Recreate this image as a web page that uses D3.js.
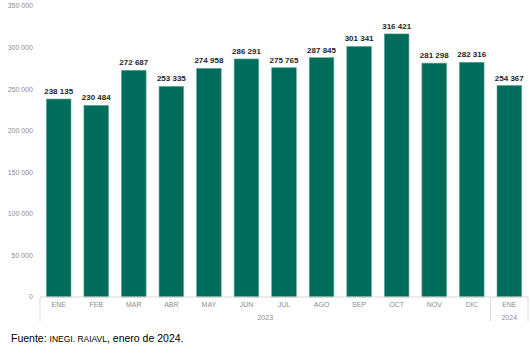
<!DOCTYPE html>
<html>
<head>
<meta charset="utf-8">
<script src="https://cdn.jsdelivr.net/npm/d3@7"></script>
<style>
  body { margin: 0; background: #fff; font-family: "Liberation Sans", Arial, sans-serif; }
</style>
</head>
<body>
<div id="chart"></div>
<script>
const meses = ["ENE", "FEB", "MAR", "ABR", "MAY", "JUN", "JUL", "AGO", "SEP", "OCT", "NOV", "DIC", "ENE"];
const anios = ["2023", "2023", "2023", "2023", "2023", "2023", "2023", "2023", "2023", "2023", "2023", "2023", "2024"];
const ventas = [238135, 230484, 272687, 253335, 274958, 286291, 275765, 287845, 301341, 316421, 281298, 282316, 254367];
const yTicks = [0, 50000, 100000, 150000, 200000, 250000, 300000, 350000];

const W = 530, H = 354;
const margin = { top: 6, right: 2, bottom: 57, left: 40 };
const width = W - margin.left - margin.right,
      height = H - margin.top - margin.bottom;

const svg = d3.select("#chart").append("svg")
    .attr("width", W).attr("height", H);
const g = svg.append("g").attr("transform", `translate(${margin.left},${margin.top})`);

const data = meses.map((m, i) => ({ id: i, mes: m, anio: anios[i], v: ventas[i] }));

const x = d3.scaleBand().domain(data.map(d => d.id)).range([0, width]).paddingInner(0.345).paddingOuter(0.17);
const y = d3.scaleLinear().domain([0, 350000]).range([height, 0]);

const fmt = v => d3.format(",")(v).replace(/,/g, " ");

// eje Y (solo etiquetas)
g.selectAll(".ytick").data(yTicks).enter().append("text")
    .attr("x", -7).attr("y", d => y(d)).attr("dy", "0.35em")
    .attr("text-anchor", "end")
    .style("font-size", "7px").style("fill", "#8c8c8c")
    .text(d => fmt(d));

// barras
g.selectAll(".bar").data(data).enter().append("rect")
    .attr("x", d => x(d.id)).attr("width", x.bandwidth())
    .attr("y", d => y(d.v)).attr("height", d => height - y(d.v))
    .attr("fill", "#006c5b").attr("stroke", "#5fa797").attr("stroke-width", 0.6);

// etiquetas de valor
g.selectAll(".lbl").data(data).enter().append("text")
    .attr("x", d => x(d.id) + x.bandwidth() / 2).attr("y", d => y(d.v) - 5)
    .attr("text-anchor", "middle")
    .style("font-size", "8px").style("font-weight", "bold").style("fill", "#262626")
    .text(d => fmt(d.v));

// eje X
const axisCol = "#d9d9d9";
g.append("line").attr("x1", 0).attr("x2", width).attr("y1", height).attr("y2", height)
    .attr("stroke", axisCol);
g.selectAll(".mes").data(data).enter().append("text")
    .attr("x", d => x(d.id) + x.bandwidth() / 2).attr("y", height + 10)
    .attr("text-anchor", "middle")
    .style("font-size", "7px").style("fill", "#8c8c8c")
    .text(d => d.mes);

// grupos por año
const grupos = d3.groups(data, d => d.anio);
const step = x.step();
let limites = [0];
grupos.forEach(([anio, items]) => {
    const a = x(items[0].id) - (step - x.bandwidth()) / 2;
    const b = x(items[items.length - 1].id) + x.bandwidth() + (step - x.bandwidth()) / 2;
    const left = Math.max(0, a), right = Math.min(width, b);
    limites.push(right);
    g.append("text")
        .attr("x", (left + right) / 2).attr("y", height + 23)
        .attr("text-anchor", "middle")
        .style("font-size", "7px").style("fill", "#8c8c8c")
        .text(anio);
});
g.selectAll(".div").data(limites).enter().append("line")
    .attr("x1", d => d).attr("x2", d => d)
    .attr("y1", height).attr("y2", height + 24)
    .attr("stroke", axisCol);

// fuente
const f = svg.append("text").attr("x", 11).attr("y", 342)
    .style("font-size", "10.5px").style("fill", "#000");
f.append("tspan").text("Fuente: ");
f.append("tspan").style("font-size", "8.5px").text("INEGI. RAIAVL");
f.append("tspan").text(", enero de 2024.");
</script>
</body>
</html>
